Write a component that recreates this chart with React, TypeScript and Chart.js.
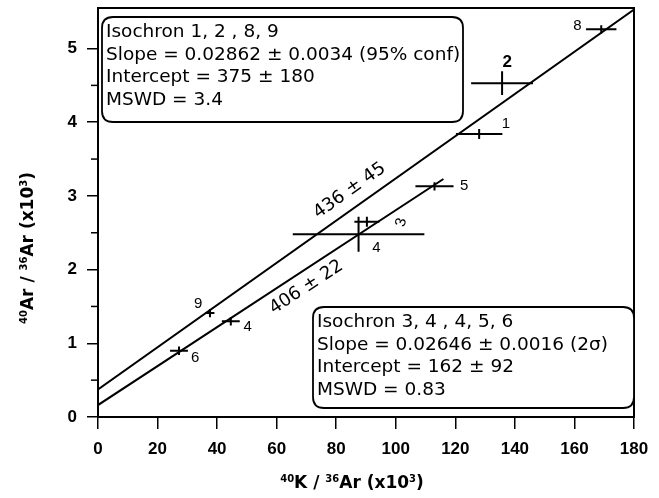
import React, { useEffect, useRef } from 'react';
import { Chart, registerables } from 'chart.js';

Chart.register(...registerables);

const FONT = '"Liberation Sans", Arial, sans-serif';
const WIDE = '"DejaVu Sans", sans-serif';

// axes
const xTicks = [0, 20, 40, 60, 80, 100, 120, 140, 160, 180];
const yTicks = [0, 1, 2, 3, 4, 5];
const yMinorTicks = [0.5, 1.5, 2.5, 3.5, 4.5];
const xMin = 0;
const xMax = 180;
const yMin = 0;
const yMax = 5.55;

// data points (40K/36Ar x10^3, 40Ar/36Ar x10^3)
const pointLabels = ['8', '2', '1', '5', '3', '4', '9', '4', '6'];
const pointX = [169, 135.7, 128, 113, 90.3, 87.5, 37.6, 44.6, 27.2];
const pointY = [5.26, 4.53, 3.84, 3.13, 2.65, 2.48, 1.41, 1.3, 0.9];
const pointXErr = [5.1, 10.4, 7.8, 6.4, 4.2, 22.1, 1.5, 3.0, 3.0];
const pointYErr = [0.03, 0.135, 0.04, 0.03, 0.04, 0.21, 0.03, 0.03, 0.03];
const labelX = [161, 137.4, 137, 123, 101.9, 93.5, 33.6, 50.3, 32.6];
const labelY = [5.31, 4.81, 3.98, 3.13, 2.64, 2.29, 1.54, 1.22, 0.8];
const labelRotationDeg = [0, 0, 0, 0, -75, 0, 0, 0, 0];

// isochron lines
const isoAX = [0, 180];
const isoAY = [0.375, 5.53];
const isoBX = [0, 116];
const isoBY = [0.162, 3.23];
const isoAAge = '436 ± 45';
const isoAAgeAt = [84.5, 3.07];
const isoBAge = '406 ± 22';
const isoBAgeAt = [70, 1.76];

// annotation boxes
const boxALines = ['Isochron 1, 2 , 8, 9', 'Slope = 0.02862 ± 0.0034 (95% conf)', 'Intercept = 375 ± 180', 'MSWD = 3.4'];
const boxBLines = ['Isochron 3, 4 , 4, 5, 6', 'Slope = 0.02646 ± 0.0016 (2σ)', 'Intercept = 162 ± 92', 'MSWD = 0.83'];

// axis titles (segments: [text, superscript])
const xTitle: [string, boolean][] = [['40', true], ['K / ', false], ['36', true], ['Ar (x10', false], ['3', true], [')', false]];
const yTitle: [string, boolean][] = [['40', true], ['Ar / ', false], ['36', true], ['Ar (x10', false], ['3', true], [')', false]];

function drawRich(ctx: CanvasRenderingContext2D, segs: [string, boolean][], cx: number, cy: number, size: number) {
  const sup = Math.round(size * 0.6);
  let total = 0;
  segs.forEach(([t, s]) => {
    ctx.font = `bold ${s ? sup : size}px ${WIDE}`;
    total += ctx.measureText(t).width;
  });
  let x = cx - total / 2;
  ctx.textAlign = 'left';
  ctx.textBaseline = 'alphabetic';
  const base = cy + size * 0.36;
  segs.forEach(([t, s]) => {
    ctx.font = `bold ${s ? sup : size}px ${WIDE}`;
    ctx.fillText(t, x, s ? base - size * 0.36 : base);
    x += ctx.measureText(t).width;
  });
}

function roundRect(ctx: CanvasRenderingContext2D, x: number, y: number, w: number, h: number, r: number) {
  ctx.beginPath();
  ctx.moveTo(x + r, y);
  ctx.lineTo(x + w - r, y);
  ctx.quadraticCurveTo(x + w, y, x + w, y + r);
  ctx.lineTo(x + w, y + h - r);
  ctx.quadraticCurveTo(x + w, y + h, x + w - r, y + h);
  ctx.lineTo(x + r, y + h);
  ctx.quadraticCurveTo(x, y + h, x, y + h - r);
  ctx.lineTo(x, y + r);
  ctx.quadraticCurveTo(x, y, x + r, y);
  ctx.closePath();
}

const overlay = {
  id: 'overlay',
  afterDatasetsDraw(chart: any) {
    const { ctx, chartArea: a } = chart;
    const xs = chart.scales.x;
    const ys = chart.scales.y;
    const px = (v: number) => xs.getPixelForValue(v);
    const py = (v: number) => ys.getPixelForValue(v);
    ctx.save();
    ctx.fillStyle = '#000';
    ctx.strokeStyle = '#000';

    // frame
    ctx.lineWidth = 2;
    ctx.strokeRect(a.left, a.top, a.right - a.left, a.bottom - a.top);

    // minor y ticks
    ctx.lineWidth = 1.5;
    yMinorTicks.forEach((v) => {
      const y = py(v);
      ctx.beginPath();
      ctx.moveTo(a.left - 7, y);
      ctx.lineTo(a.left, y);
      ctx.stroke();
    });

    // error bars
    ctx.lineWidth = 2;
    pointX.forEach((xv, i) => {
      const yv = pointY[i];
      ctx.beginPath();
      ctx.moveTo(px(xv - pointXErr[i]), py(yv));
      ctx.lineTo(px(xv + pointXErr[i]), py(yv));
      ctx.moveTo(px(xv), py(yv - pointYErr[i]) + 2);
      ctx.lineTo(px(xv), py(yv + pointYErr[i]) - 2);
      ctx.stroke();
    });

    // point labels
    ctx.textAlign = 'center';
    ctx.textBaseline = 'middle';
    pointLabels.forEach((t, i) => {
      ctx.save();
      ctx.translate(px(labelX[i]), py(labelY[i]));
      ctx.rotate((labelRotationDeg[i] * Math.PI) / 180);
      ctx.font = `${t === '2' ? 'bold 17' : '15'}px ${FONT}`;
      ctx.fillText(t, 0, 0);
      ctx.restore();
    });

    // age labels along the isochrons
    const ageLabel = (text: string, at: number[], lx: number[], ly: number[]) => {
      const ang = Math.atan2(py(ly[1]) - py(ly[0]), px(lx[1]) - px(lx[0]));
      ctx.save();
      ctx.translate(px(at[0]), py(at[1]));
      ctx.rotate(ang);
      ctx.font = `18px ${WIDE}`;
      ctx.textAlign = 'center';
      ctx.textBaseline = 'middle';
      ctx.fillText(text, 0, 0);
      ctx.restore();
    };
    ageLabel(isoAAge, isoAAgeAt, isoAX, isoAY);
    ageLabel(isoBAge, isoBAgeAt, isoBX, isoBY);

    // annotation boxes
    const box = (lines: string[], x: number, y: number, w: number, h: number) => {
      ctx.lineWidth = 1.8;
      roundRect(ctx, x, y, w, h, 11);
      ctx.fillStyle = '#fff';
      ctx.fill();
      ctx.stroke();
      ctx.fillStyle = '#000';
      ctx.font = `18.5px ${WIDE}`;
      ctx.textAlign = 'left';
      ctx.textBaseline = 'middle';
      lines.forEach((l, i) => ctx.fillText(l, x + 4, y + 15 + i * 22.7));
    };
    box(boxALines, a.left + 4, a.top + 9, 361, 105);
    box(boxBLines, a.left + 215, a.bottom - 110, a.right - a.left - 215, 101);

    // axis titles
    ctx.fillStyle = '#000';
    drawRich(ctx, xTitle, a.left + 254, 482, 17);
    ctx.save();
    ctx.translate(27, a.top + 240);
    ctx.rotate(-Math.PI / 2);
    drawRich(ctx, yTitle, 0, 0, 17);
    ctx.restore();

    ctx.restore();
  },
};

export default function App() {
  const ref = useRef<HTMLCanvasElement>(null);
  useEffect(() => {
    if (!ref.current) return;
    const tickFont = { family: FONT, size: 17, weight: 'bold' as const };
    const chart = new Chart(ref.current, {
      type: 'scatter',
      data: {
        datasets: [
          {
            type: 'line',
            data: isoAX.map((v, i) => ({ x: v, y: isoAY[i] })),
            borderColor: '#000',
            borderWidth: 2,
            pointRadius: 0,
          } as any,
          {
            type: 'line',
            data: isoBX.map((v, i) => ({ x: v, y: isoBY[i] })),
            borderColor: '#000',
            borderWidth: 2,
            pointRadius: 0,
          } as any,
          {
            data: pointX.map((v, i) => ({ x: v, y: pointY[i] })),
            pointRadius: 0,
            borderColor: '#000',
            backgroundColor: '#000',
          },
        ],
      },
      options: {
        animation: false,
        responsive: false,
        devicePixelRatio: 1,
        layout: { padding: { top: 8, right: 25, left: 0, bottom: 0 } },
        plugins: { legend: { display: false }, tooltip: { enabled: false } },
        scales: {
          x: {
            type: 'linear',
            min: xMin,
            max: xMax,
            afterBuildTicks: (s: any) => {
              s.ticks = xTicks.map((v) => ({ value: v }));
            },
            afterFit: (s: any) => {
              s.height = 81;
              s.paddingLeft = 0;
              s.paddingRight = 0;
            },
            ticks: { color: '#000', font: tickFont, padding: 10, maxRotation: 0, autoSkip: false },
            grid: { drawOnChartArea: false, drawTicks: true, tickLength: 12, color: '#000', lineWidth: 1.5 },
            border: { display: true, color: '#000', width: 2 },
          },
          y: {
            type: 'linear',
            min: yMin,
            max: yMax,
            afterBuildTicks: (s: any) => {
              s.ticks = yTicks.map((v) => ({ value: v }));
            },
            afterFit: (s: any) => {
              s.width = 98;
              s.paddingTop = 0;
              s.paddingBottom = 0;
            },
            ticks: { color: '#000', font: tickFont, padding: 10, autoSkip: false },
            grid: { drawOnChartArea: false, drawTicks: true, tickLength: 11, color: '#000', lineWidth: 1.5 },
            border: { display: true, color: '#000', width: 2 },
          },
        },
      },
      plugins: [overlay],
    });
    return () => chart.destroy();
  }, []);
  return (
    <div style={{ position: 'fixed', left: 0, top: 0, width: 659, height: 498, background: '#fff' }}>
      <canvas ref={ref} width={659} height={498} style={{ width: 659, height: 498, display: 'block' }} />
    </div>
  );
}
